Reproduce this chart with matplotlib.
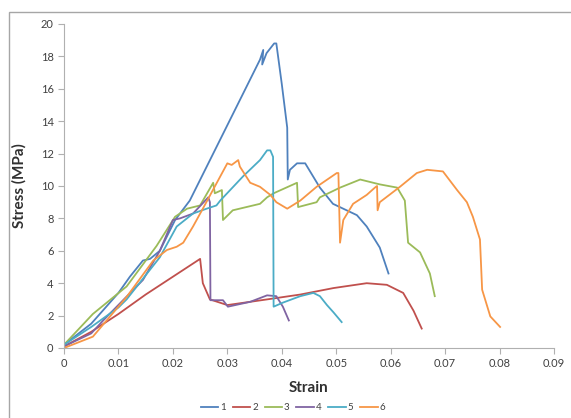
import matplotlib
matplotlib.use("Agg")
import matplotlib.pyplot as plt
from matplotlib.patches import Rectangle

# ---- data ----
s1_x = [0.0, 0.005, 0.010, 0.0121, 0.0145, 0.0158, 0.0176, 0.0204, 0.0231, 0.0277,
        0.036, 0.0366, 0.0364, 0.0372, 0.0386, 0.039, 0.040, 0.041, 0.0411, 0.0415,
        0.0428, 0.0443, 0.0452, 0.047, 0.0494, 0.0538, 0.0556, 0.058, 0.0596]
s1_y = [0.2, 1.5, 3.4, 4.4, 5.4, 5.5, 6.0, 7.9, 9.1, 12.2,
        17.8, 18.4, 17.5, 18.2, 18.8, 18.8, 16.3, 13.6, 10.4, 11.0,
        11.4, 11.4, 10.9, 9.9, 8.9, 8.2, 7.5, 6.2, 4.6]

s2_x = [0.0, 0.005, 0.010, 0.015, 0.020, 0.025, 0.0255, 0.0268, 0.030, 0.0373,
        0.0434, 0.0495, 0.0556, 0.0593, 0.0623, 0.0642, 0.0657]
s2_y = [0.1, 1.0, 2.1, 3.3, 4.4, 5.5, 4.0, 3.0, 2.65, 3.0,
        3.3, 3.7, 4.0, 3.9, 3.4, 2.3, 1.2]

s3_x = [0.0, 0.0053, 0.0115, 0.017, 0.0204, 0.0226, 0.025, 0.0274, 0.0277, 0.029,
        0.0292, 0.031, 0.036, 0.0373, 0.0385, 0.0428, 0.043, 0.0464, 0.047, 0.0507,
        0.0544, 0.058, 0.0612, 0.0626, 0.0632, 0.0654, 0.0672, 0.0681]
s3_y = [0.2, 2.1, 3.8, 6.3, 8.1, 8.6, 8.8, 10.2, 9.55, 9.75,
        7.9, 8.5, 8.9, 9.3, 9.55, 10.2, 8.7, 9.0, 9.3, 9.9,
        10.4, 10.1, 9.9, 9.1, 6.5, 5.9, 4.6, 3.2]

s4_x = [0.0, 0.005, 0.0072, 0.0145, 0.0176, 0.020, 0.0213, 0.0237, 0.0265, 0.0268,
        0.0269, 0.0292, 0.0301, 0.0342, 0.0373, 0.039, 0.0402, 0.0413]
s4_y = [0.1, 0.9, 1.7, 4.2, 6.0, 7.9, 8.0, 8.3, 9.3, 9.0,
        2.95, 2.95, 2.55, 2.85, 3.25, 3.2, 2.55, 1.7]

s5_x = [0.0, 0.005, 0.010, 0.0115, 0.0176, 0.0207, 0.0237, 0.0262, 0.028, 0.0287,
        0.0329, 0.036, 0.0373, 0.0379, 0.0384, 0.0385, 0.0402, 0.0434, 0.0458, 0.047,
        0.0483, 0.0495, 0.051]
s5_y = [0.2, 1.3, 2.5, 3.0, 5.6, 7.5, 8.3, 8.6, 8.8, 9.1,
        10.6, 11.6, 12.2, 12.2, 11.8, 2.55, 2.8, 3.2, 3.4, 3.2,
        2.65, 2.2, 1.6]

s6_x = [0.0, 0.0053, 0.0115, 0.0164, 0.0189, 0.0207, 0.0219, 0.0237, 0.0255, 0.030,
        0.0308, 0.032, 0.0323, 0.0342, 0.036, 0.0379, 0.039, 0.041, 0.0434, 0.0464,
        0.0501, 0.0504, 0.0507, 0.0513, 0.0531, 0.0556, 0.0571, 0.0575, 0.0576, 0.058,
        0.0617, 0.0648, 0.0667, 0.0696, 0.0722, 0.074, 0.0751, 0.0764, 0.0768, 0.0783,
        0.0801]
s6_y = [0.0, 0.7, 3.15, 5.4, 6.05, 6.25, 6.5, 7.5, 8.6, 11.4,
        11.3, 11.6, 11.2, 10.2, 9.95, 9.45, 9.0, 8.6, 9.1, 9.95,
        10.8, 10.8, 6.5, 7.9, 8.9, 9.45, 9.9, 10.0, 8.5, 9.0,
        9.95, 10.8, 11.0, 10.9, 9.75, 9.0, 8.1, 6.7, 3.6, 1.95,
        1.3]

series_names = ["1", "2", "3", "4", "5", "6"]
series_x = [s1_x, s2_x, s3_x, s4_x, s5_x, s6_x]
series_y = [s1_y, s2_y, s3_y, s4_y, s5_y, s6_y]
colors = ["#4F81BD", "#C0504D", "#9BBB59", "#8064A2", "#4BACC6", "#F79646"]

x_ticks = [0, 0.01, 0.02, 0.03, 0.04, 0.05, 0.06, 0.07, 0.08, 0.09]
x_tick_labels = ["0", "0.01", "0.02", "0.03", "0.04", "0.05", "0.06", "0.07", "0.08", "0.09"]
y_ticks = [0, 2, 4, 6, 8, 10, 12, 14, 16, 18, 20]

plt.rcParams['font.family'] = ['Lato', 'DejaVu Sans']

W, H = 571, 418
fig = plt.figure(figsize=(W / 100, H / 100), dpi=100)
ax = fig.add_axes([64 / W, 1 - 348 / H, (554 - 64) / W, (348 - 24) / H])

# outer chart frame
fig.patches.append(Rectangle((9 / W, -0.01), 1.0, 1 - 12 / H + 0.01, transform=fig.transFigure,
                             fill=False, edgecolor="#a6a6a6", linewidth=1.0))

for name, xs, ys, c in zip(series_names, series_x, series_y, colors):
    ax.plot(xs, ys, color=c, linewidth=1.3, label=name)

ax.set_xlim(0, 0.09)
ax.set_ylim(0, 20)
ax.set_xticks(x_ticks)
ax.set_xticklabels(x_tick_labels)
ax.set_yticks(y_ticks)
for s in ["top", "right"]:
    ax.spines[s].set_visible(False)
for s in ["left", "bottom"]:
    ax.spines[s].set_color("#b0b0b0")
    ax.spines[s].set_linewidth(0.8)
ax.tick_params(axis="both", colors="#b0b0b0", labelcolor="#404040", labelsize=8,
               length=4, width=0.8, direction="out")

ax.set_xlabel("Strain", fontsize=11, fontweight="bold", color="#303030", labelpad=8)
ax.set_ylabel("Stress (MPa)", fontsize=11, fontweight="bold", color="#303030", labelpad=10)

leg = fig.legend(loc="center", bbox_to_anchor=(293 / W, 1 - 408 / H), ncol=6, frameon=False,
                 fontsize=7, handlelength=1.8, handletextpad=0.2, columnspacing=0.7,
                 labelcolor="#404040")

fig.savefig("out.png", dpi=100)
